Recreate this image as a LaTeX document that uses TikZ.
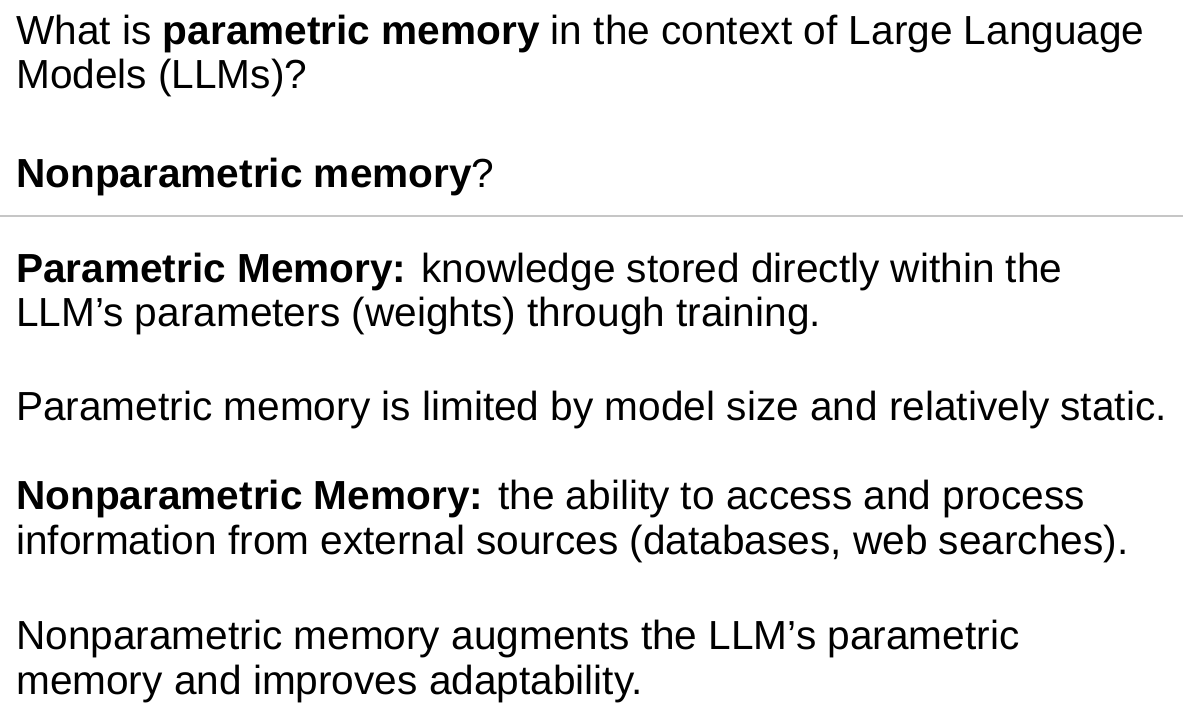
\documentclass[tikz,border=0pt]{standalone}
\usepackage{fontspec}
\setmainfont{Liberation Sans}
\begin{document}
\begin{tikzpicture}[x=1pt,y=-1pt,
  ln/.style={anchor=base west,inner sep=0pt,font=\fontsize{40.6}{43}\selectfont}]
\useasboundingbox (0,0) rectangle (1200,715);
\node[ln] (l1) at (16,44) {What is \textbf{parametric memory} in the context of Large Language};
\node[ln] (l2) at (16,88) {Models (LLMs)?};
\node[ln] (l3) at (16,187) {\textbf{Nonparametric memory}?};
\draw[gray!45,line width=1.2pt] (0,216) -- (1183,216);
\node[ln] (l4) at (16,282) {\textbf{Parametric Memory:} knowledge stored directly within the};
\node[ln] (l5) at (16,326) {LLM’s parameters (weights) through training.};
\node[ln] (l6) at (16,420) {Parametric memory is limited by model size and relatively static.};
\node[ln] (l7) at (16,509) {\textbf{Nonparametric Memory:} the ability to access and process};
\node[ln] (l8) at (16,554) {information from external sources (databases, web searches).};
\node[ln] (l9) at (16,649) {Nonparametric memory augments the LLM’s parametric};
\node[ln] (l10) at (16,694) {memory and improves adaptability.};
\end{tikzpicture}
\end{document}
